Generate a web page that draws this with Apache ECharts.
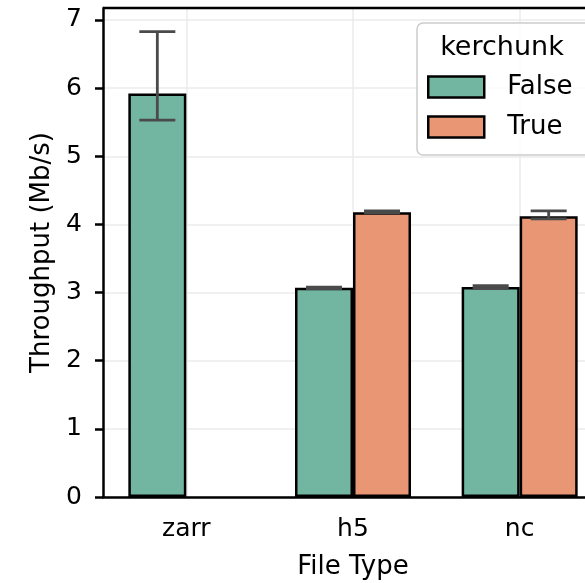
<!DOCTYPE html>
<html>
<head>
<meta charset="utf-8">
<script src="https://cdn.jsdelivr.net/npm/echarts@6/dist/echarts.min.js"></script>
<style>
html, body { margin: 0; padding: 0; background: #fff; }
#chart { width: 585px; height: 583px; }
</style>
</head>
<body>
<div id="chart"></div>
<script>
// file types on x
var categories = ['zarr', 'h5', 'nc'];
// mean throughput (Mb/s), kerchunk False / True
var falseMean = [5.92, 3.07, 3.08];
var trueMean = [null, 4.18, 4.12];
// error bar ends
var falseLow = [5.53, 3.06, 3.06];
var falseHigh = [6.83, 3.08, 3.10];
var trueLow = [null, 4.17, 4.08];
var trueHigh = [null, 4.20, 4.20];
var yTicks = [0, 1, 2, 3, 4, 5, 6, 7];

var green = '#72b6a1';
var orange = '#e99675';
var errColor = '#4a4a4a';
var barW = 58;
var font = 'DejaVu Sans';

var errData = [];
for (var i = 0; i < categories.length; i++) {
    if (falseMean[i] != null) errData.push([i, falseLow[i], falseHigh[i], -1]);
    if (trueMean[i] != null) errData.push([i, trueLow[i], trueHigh[i], 1]);
}

function renderErr(params, api) {
    var sign = api.value(3);
    var lo = api.coord([api.value(0), api.value(1)]);
    var hi = api.coord([api.value(0), api.value(2)]);
    var x = lo[0] + sign * barW / 2;
    var cap = 18;
    var style = {stroke: errColor, lineWidth: 2.8};
    return {
        type: 'group',
        children: [
            {type: 'line', shape: {x1: x, y1: lo[1], x2: x, y2: hi[1]}, style: style},
            {type: 'line', shape: {x1: x - cap, y1: lo[1], x2: x + cap, y2: lo[1]}, style: style},
            {type: 'line', shape: {x1: x - cap, y1: hi[1], x2: x + cap, y2: hi[1]}, style: style}
        ]
    };
}

var option = {
    animation: false,
    backgroundColor: '#fff',
    textStyle: {fontFamily: font},
    grid: {left: 103, top: 8, width: 500, bottom: 86, outerBoundsMode: 'none', containLabel: false},
    legend: {
        data: ['False', 'True'],
        orient: 'vertical',
        left: 422,
        top: 69,
        z: 10,
        icon: 'rect',
        itemWidth: 56,
        itemHeight: 21,
        itemGap: 14,
        itemStyle: {borderColor: '#000', borderWidth: 2.5},
        textStyle: {fontFamily: font, fontSize: 26, lineHeight: 26, color: '#000', padding: [0, 0, 0, 18]}
    },
    graphic: [
        {
            type: 'rect', z: 9,
            shape: {x: 417, y: 23, width: 220, height: 132, r: 6},
            style: {fill: 'rgba(255,255,255,0.8)', stroke: '#cccccc', lineWidth: 1.5}
        },
        {
            type: 'text', z: 10,
            x: 502, y: 48,
            style: {text: 'kerchunk', font: '27px "DejaVu Sans"', fill: '#000',
                    textAlign: 'center', textVerticalAlign: 'middle'}
        },
        {
            type: 'line', z: 6,
            shape: {x1: 103, y1: 8, x2: 585, y2: 8},
            style: {stroke: '#000', lineWidth: 2.5}
        }
    ],
    xAxis: {
        type: 'category',
        data: categories,
        name: 'File Type',
        nameLocation: 'middle',
        nameGap: 57,
        nameTextStyle: {fontSize: 26, color: '#000', fontFamily: font},
        axisLine: {lineStyle: {color: '#000', width: 2.5}},
        axisTick: {alignWithLabel: true, length: 8, lineStyle: {color: '#000', width: 2.5}},
        axisLabel: {fontSize: 25, color: '#000', margin: 20, fontFamily: font},
        splitLine: {show: true, alignWithLabel: true, lineStyle: {color: '#ebebeb', width: 1.5}}
    },
    yAxis: {
        type: 'value',
        min: 0,
        max: 7.176,
        interval: 1,
        name: 'Throughput (Mb/s)',
        nameLocation: 'middle',
        nameGap: 47,
        nameTextStyle: {fontSize: 26, color: '#000', fontFamily: font},
        axisLine: {show: true, lineStyle: {color: '#000', width: 2.5}},
        axisTick: {show: true, length: 8, lineStyle: {color: '#000', width: 2.5}},
        axisLabel: {
            fontSize: 25, color: '#000', margin: 21, fontFamily: font,
            showMaxLabel: false,
            formatter: function (v) { return yTicks.indexOf(v) >= 0 ? String(v) : ''; }
        },
        splitLine: {lineStyle: {color: '#ebebeb', width: 1.5}}
    },
    series: [
        {
            name: 'False', type: 'bar', data: falseMean,
            barWidth: barW, barGap: '0%',
            itemStyle: {color: green, borderColor: '#000', borderWidth: 2.5}
        },
        {
            name: 'True', type: 'bar', data: trueMean,
            barWidth: barW, barGap: '0%',
            itemStyle: {color: orange, borderColor: '#000', borderWidth: 2.5}
        },
        {
            name: 'err', type: 'custom', data: errData,
            renderItem: renderErr, z: 5, silent: true
        }
    ]
};

var chart = echarts.init(document.getElementById('chart'));
chart.setOption(option);
</script>
</body>
</html>
